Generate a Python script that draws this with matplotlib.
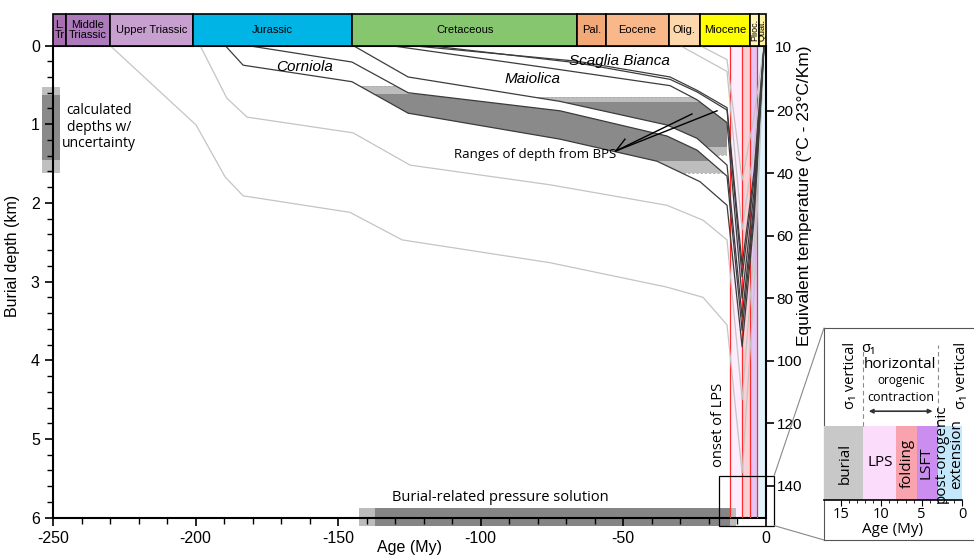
import numpy as np
import matplotlib.pyplot as plt
from matplotlib.patches import Rectangle, Polygon, ConnectionPatch

plt.rcParams['font.family'] = ['Liberation Sans', 'DejaVu Sans']
plt.rcParams['axes.unicode_minus'] = False
MYR = ['Open Sans', 'DejaVu Sans']

# geological time scale (My)
period_names = ['L.\nTr', 'Middle\nTriassic', 'Upper Triassic', 'Jurassic', 'Cretaceous',
                'Pal.', 'Eocene', 'Olig.', 'Miocene', 'Plioc.', 'Quat.']
period_bounds = [-250, -245.5, -230, -201, -145, -66, -56, -34, -23, -5.5, -2.3, 0]
period_colors = ['#a76fb0', '#ad7bbb', '#c7a0d0', '#00b5e5', '#86c66e', '#f3a878',
                 '#f8b88a', '#fdd8ad', '#ffff00', '#fff6b8', '#fff3a0']

# burial curves (age My, depth km)
S1_age = [-124.7, -66.1, -33.5, -24.0, -13.5, -8.2, -4.0, -0.5]
S1_dep = [0, 0.20, 0.40, 0.57, 0.79, 2.79, 1.6, 0]
S2_age = [-118.4, -66.1, -33.5, -24.0, -13.5, -8.2, -4.0, -0.5]
S2_dep = [0, 0.22, 0.43, 0.59, 0.82, 2.94, 1.7, 0]
M2_age = [-131.8, -79.1, -33.5, -24.0, -13.5, -8.2, -4.0, -0.5]   # Maiolica top
M2_dep = [0, 0.27, 0.51, 0.69, 0.98, 3.21, 1.85, 0]
B2_age = [-144.7, -125.4, -72.1, -34.6, -24.0, -13.5, -8.2, -4.0, -0.5]   # Maiolica base
B2_dep = [0, 0.40, 0.71, 1.01, 1.18, 1.52, 3.45, 2.0, 0]
T1_age = [-181.9, -145.1, -125.4, -72.1, -34.6, -24.0, -13.5, -8.2, -4.0, -0.5]   # Corniola top
T1_dep = [0, 0.21, 0.60, 0.83, 1.15, 1.33, 1.66, 3.62, 2.1, 0]
B1_age = [-189.6, -183.3, -145.1, -125.4, -72.1, -38.1, -23.0, -13.5, -8.2, -4.0, -0.5]   # Corniola base
B1_dep = [0, 0.25, 0.46, 0.86, 1.19, 1.47, 1.73, 2.03, 3.83, 2.2, 0]
G2_age = [-198.4, -189.0, -181.9, -144.7, -124.7, -75.6, -34.6, -21.9, -13.5, -8.2, -4.0, -0.5]
G2_dep = [0, 0.67, 0.91, 1.11, 1.52, 1.77, 2.03, 2.22, 2.47, 4.5, 2.6, 0]
G1_age = [-230.0, -199.8, -189.6, -183.3, -145.8, -127.5, -75.6, -34.6, -21.9, -13.5, -8.2, -4.0, -0.5]
G1_dep = [0, 1.01, 1.67, 1.91, 2.12, 2.47, 2.76, 3.07, 3.20, 3.55, 5.43, 3.1, 0]
Y1_age = [-30.0, -13.5, -8.2, -4.0, -0.5]
Y1_dep = [0, 0.33, 2.34, 1.3, 0]
Y2_age = [-23.0, -13.5, -8.2, -4.0, -0.5]
Y2_dep = [0, 0.18, 1.71, 0.9, 0]

# BPS depth ranges (dark range, light = uncertainty)
band1_dark = (0.62, 1.47)
band1_light = (0.51, 1.62)
band2_dark = (0.72, 1.29)
band2_light = (0.65, 1.39)
bps_end_age = -13.5

# tectonic phases
phase_names = ['burial', 'LPS', 'folding', 'LSFT', 'post-orogenic\nextension']
phase_bounds = [17.1, 12.3, 8.2, 5.6, 3.0, 0]
phase_colors = ['#c8c8c8', '#fcdcfb', '#f8a3ad', '#cc8df0', '#c4e8fb']

temp_ticks = [20, 40, 60, 80, 100, 120, 140]

fig = plt.figure(figsize=(9.74, 5.55), dpi=100)
W, H = 974, 555
ax = fig.add_axes([53 / W, 1 - 517.7 / H, 712.5 / W, 472.2 / H])
ax.set_xlim(-250, 0)
ax.set_ylim(6, 0)

# tectonic phase shading in main plot
for i in range(1, 5):
    ax.axvspan(-phase_bounds[i], -phase_bounds[i + 1], color=phase_colors[i], alpha=0.5, lw=0, zorder=0)
    ax.axvline(-phase_bounds[i], color='#ff2a2a', lw=0.9, zorder=3)

def band(ta, td, ba, bd, dark, light):
    n1 = ta.index(bps_end_age) + 1
    n2 = ba.index(bps_end_age) + 1
    verts = list(zip(ta[:n1], td[:n1])) + list(zip(ba[:n2], bd[:n2]))[::-1]
    for lo, hi, c in [(light[0], light[1], '#bdbdbd'), (dark[0], dark[1], '#8a8a8a')]:
        p = Polygon(verts, closed=True, fc=c, ec='none', zorder=2)
        ax.add_patch(p)
        r = Rectangle((-260, lo), 260 + bps_end_age, hi - lo, transform=ax.transData)
        p.set_clip_path(r)
    ax.hlines([light[0], light[1]], -260, bps_end_age, colors='#aaaaaa', lw=0.6,
              linestyles=(0, (3, 2)), zorder=2).set_clip_path(
        Polygon(verts, closed=True, transform=ax.transData))

band(T1_age, T1_dep, B1_age, B1_dep, band1_dark, band1_light)
band(M2_age, M2_dep, B2_age, B2_dep, band2_dark, band2_light)

for a, d in [(G1_age, G1_dep), (G2_age, G2_dep), (Y1_age, Y1_dep), (Y2_age, Y2_dep)]:
    ax.plot(a, d, color='#c4c4c4', lw=0.9, zorder=4)
for a, d in [(S1_age, S1_dep), (S2_age, S2_dep), (M2_age, M2_dep), (B2_age, B2_dep),
             (T1_age, T1_dep), (B1_age, B1_dep)]:
    ax.plot(a, d, color='#3c3c3c', lw=0.9, zorder=5)

# axes styling
for s in ax.spines.values():
    s.set_linewidth(1.5)
ax.set_xticks(np.arange(-250, 1, 50))
ax.set_xticks(np.arange(-250, 1, 10), minor=True)
ax.set_yticks(np.arange(0, 7, 1))
ax.set_yticks(np.arange(0, 6.01, 0.2), minor=True)
ax.tick_params(which='major', length=6, width=1.2, labelsize=11.5)
ax.tick_params(which='minor', length=4, width=1.0)
ax.set_xlabel('Age (My)', fontsize=11.5, labelpad=-4)
ax.set_ylabel('Burial depth (km)', fontsize=11.5)
ax.yaxis.set_label_coords(-0.046, 0.554)

ax2 = ax.twinx()
ax2.set_ylim(6, 0)
ax2.set_yticks([(t + 0.95) / 25.2 for t in temp_ticks])
ax2.set_yticklabels([str(t) for t in temp_ticks])
ax2.tick_params(length=6, width=1.2, labelsize=11, pad=2)
for s in ax2.spines.values():
    s.set_visible(False)
ax.text(1.013, 0.995, '10', transform=ax.transAxes, fontsize=11, va='center', ha='left')
fig.text(804 / W, 1 - 196 / H, 'Equivalent temperature (°C - 23°C/Km)', rotation=90,
         fontsize=12.5, ha='center', va='center')

# time scale bar
tax = fig.add_axes([53 / W, 1 - 46 / H, 712.5 / W, 32 / H])
tax.set_xlim(-250, 0)
tax.set_ylim(0, 1)
tax.axis('off')
for i, name in enumerate(period_names):
    x0, x1 = period_bounds[i], period_bounds[i + 1]
    tax.add_patch(Rectangle((x0, 0), x1 - x0, 1, fc=period_colors[i], ec='black', lw=1.2, clip_on=False))
    rot = 90 if name in ('Plioc.', 'Quat.') else 0
    fs = 6.5 if rot else 8
    tax.text((x0 + x1) / 2, 0.5, name, ha='center', va='center', fontsize=fs, rotation=rot,
             linespacing=1.0)

# labels
ax.text(-161.6, 0.27, 'Corniola', style='italic', fontsize=11, ha='center', va='center', zorder=6)
ax.text(-81.9, 0.43, 'Maiolica', style='italic', fontsize=11, ha='center', va='center', zorder=6)
ax.text(-51.1, 0.20, 'Scaglia Bianca', style='italic', fontsize=11, ha='center', va='center', zorder=6)
ax.text(-80.8, 1.39, 'Ranges of depth from BPS', family=MYR, fontsize=9.5, ha='center', va='center', zorder=6)
for tip in [(-25.8, 0.87), (-17.0, 0.83), (-49.3, 1.19)]:
    ax.plot([-52.5, tip[0]], [1.34, tip[1]], color='black', lw=1.0, zorder=6)

# calculated depths legend
ax.add_patch(Rectangle((-253.9, 0.53), 6.4, 1.09, fc='#c0c0c0', ec='none', clip_on=False, zorder=1))
ax.add_patch(Rectangle((-253.9, 0.63), 6.4, 0.82, fc='#8a8a8a', ec='none', clip_on=False, zorder=1))
ax.text(-233.9, 1.04, 'calculated\ndepths w/\nuncertainty', family=MYR, fontsize=10,
        ha='center', va='center', linespacing=1.15)

# burial-related pressure solution bar
ax.add_patch(Rectangle((-142.5, 5.88), 5.5, 0.22, fc='#bcbcbc', ec='none', clip_on=False, zorder=1))
ax.add_patch(Rectangle((-137.0, 5.88), 124.5, 0.22, fc='#858585', ec='none', clip_on=False, zorder=1))
ax.add_patch(Rectangle((-12.5, 5.88), 2.0, 0.22, fc='#bcbcbc', ec='none', clip_on=False, zorder=1))
ax.text(-93, 5.74, 'Burial-related pressure solution', family=MYR, fontsize=10.5, ha='center', va='center')
ax.text(-16.5, 4.82, 'onset of LPS', family=MYR, fontsize=10.5, rotation=90, ha='center', va='center')

# zoom box
ax.add_patch(Rectangle((-16.3, 5.47), 19.3, 0.63, fc='none', ec='black', lw=0.9, clip_on=False, zorder=7))

# inset
fax = fig.add_axes([824 / W, 1 - 540 / H, 160 / W, 212 / H])
fax.set_xticks([])
fax.set_yticks([])
fax.patch.set_alpha(0)
for s in fax.spines.values():
    s.set_color('#555555')
    s.set_linewidth(0.8)
for xyA, xyB in [((3.0, 5.47), (0, 1)), ((3.0, 6.1), (0, 0))]:
    fig.add_artist(ConnectionPatch(xyA=xyA, coordsA=ax.transData, xyB=xyB, coordsB=fax.transAxes,
                                   color='#888888', lw=0.8))

iax = fig.add_axes([824 / W, 1 - 500 / H, 138 / W, 74 / H])
iax.set_xlim(phase_bounds[0], 0)
iax.set_ylim(0, 1)
for i, name in enumerate(phase_names):
    x0, x1 = phase_bounds[i], phase_bounds[i + 1]
    iax.axvspan(x0, x1, color=phase_colors[i], lw=0)
for s in ['top', 'left', 'right']:
    iax.spines[s].set_visible(False)
iax.spines['bottom'].set_linewidth(1.2)
iax.set_yticks([])
iax.set_xticks([15, 10, 5, 0])
iax.set_xticks(np.arange(0, 16, 1), minor=True)
iax.tick_params(which='major', length=4, labelsize=10.5, pad=1)
iax.tick_params(which='minor', length=2.5)
for lab in iax.get_xticklabels():
    lab.set_family(MYR)
iax.set_xlabel('Age (My)', family=MYR, fontsize=11, labelpad=0)
for xb in [phase_bounds[1], phase_bounds[4]]:
    iax.plot([xb, xb], [1, 2.1], ls=(0, (4, 3)), color='#888888', lw=0.8, clip_on=False)

iax.text(14.5, 0.5, 'burial', family=MYR, rotation=90, fontsize=11, ha='center', va='center')
iax.text(10.1, 0.5, 'LPS', family=MYR, fontsize=11, ha='center', va='center')
iax.text(6.8, 0.5, 'folding', family=MYR, rotation=90, fontsize=11, ha='center', va='center')
iax.text(4.4, 0.5, 'LSFT', family=MYR, rotation=90, fontsize=11, ha='center', va='center')
iax.text(1.6, 0.62, 'post-orogenic\nextension', family=MYR, rotation=90, fontsize=11,
         ha='center', va='center', linespacing=1.0)
iax.text(13.8, 1.69, 'σ₁ vertical', family=MYR, rotation=90, fontsize=10.5, ha='center', va='center')
iax.text(0.0, 1.69, 'σ₁ vertical', family=MYR, rotation=90, fontsize=10.5, ha='center', va='center')
iax.text(11.6, 2.05, 'σ₁', family=MYR, fontsize=10.5, ha='center', va='center')
iax.text(7.7, 1.83, 'horizontal', family=MYR, fontsize=11, ha='center', va='center')
iax.text(7.5, 1.62, 'orogenic', family=MYR, fontsize=8.5, ha='center', va='center')
iax.text(7.6, 1.39, 'contraction', family=MYR, fontsize=9, ha='center', va='center')
iax.annotate('', xy=(11.9, 1.2), xytext=(3.3, 1.2), annotation_clip=False,
             arrowprops=dict(arrowstyle='<|-|>', color='#333333', lw=1.2, mutation_scale=6))

fig.savefig('out.png', dpi=100)
